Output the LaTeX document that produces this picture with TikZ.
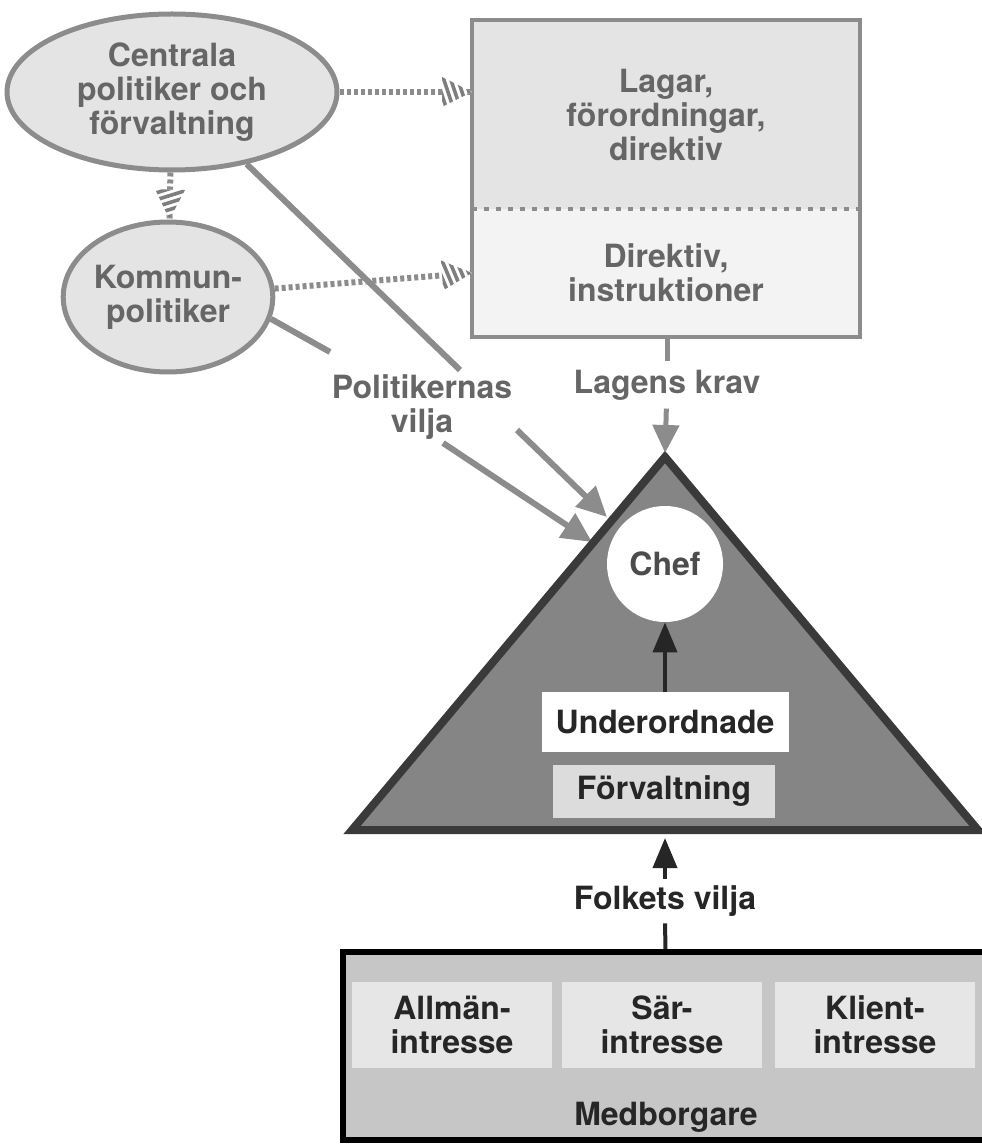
\documentclass[tikz,border=0pt]{standalone}
\usepackage{fontspec}
\setmainfont{TeX Gyre Heros}
\usepackage{xcolor}
\usepackage{tikz}
\usetikzlibrary{shapes.geometric, arrows.meta, positioning, calc, decorations.markings}

\definecolor{linegray}{HTML}{8C8C8C}
\definecolor{textgray}{HTML}{666666}
\definecolor{paleA}{HTML}{E4E4E4}
\definecolor{paleB}{HTML}{F3F3F3}
\definecolor{paleC}{HTML}{DCDCDC}
\definecolor{trifill}{HTML}{858585}
\definecolor{triedge}{HTML}{3A3A3A}
\definecolor{boxfill}{HTML}{C6C6C6}
\definecolor{cellfill}{HTML}{E6E6E6}

\tikzset{
  lbl/.style={font=\fontsize{16}{17}\selectfont\bfseries, align=center},
  bubble/.style={ellipse, draw=linegray, line width=2.5pt, fill=paleA, lbl, text=textgray, inner sep=0pt},
  hatch/.style={linegray, line width=3pt, dash pattern=on 2pt off 1.5pt,
    postaction={decorate},
    decoration={markings, mark=at position 1 with {
      \fill[white] (0,0) -- (-30,15) -- (-30,-15) -- cycle;
      \begin{scope}
        \clip (0,0) -- (-30,15) -- (-30,-15) -- cycle;
        \foreach \s in {-44,-37,...,6}
          \draw[solid, line width=1.8pt, linegray!90!black] (\s,-18) -- (\s+12,18);
      \end{scope}}}},
  pline/.style={linegray, line width=3pt},
  parrow/.style={pline, -{Triangle[length=15pt, width=14pt]}},
  larrow/.style={linegray, line width=2.5pt, -{Triangle[length=14pt, width=13pt]}},
  blackline/.style={black!85, line width=2pt},
  barrow/.style={blackline, -{Triangle[length=15pt, width=12pt]}},
  cell/.style={lbl, fill=cellfill, minimum width=100pt, minimum height=43pt, text=black!85}
}

\begin{document}
\begin{tikzpicture}[x=0.5pt, y=-0.5pt]
  \useasboundingbox (0,0) rectangle (981,1144);
  % Politicians
  \node[bubble, minimum width=165pt, minimum height=78pt] (cp) at (172,92) {Centrala\\politiker och\\förvaltning};
  \node[bubble, minimum width=90pt, minimum height=75pt] (kp) at (168,297) {Kommun-\\politiker};
  % Rules box, split in two
  \node[fill=paleA, lbl, text=textgray, outer sep=0pt, minimum width=194pt, minimum height=94.5pt] (lag) at (666,114.5) {Lagar,\\förordningar,\\direktiv};
  \node[fill=paleB, lbl, text=textgray, outer sep=0pt, minimum width=194pt, minimum height=64pt] (dir) at (666,273) {Direktiv,\\instruktioner};
  \draw[linegray, line width=2pt] (lag.north west) rectangle (dir.south east);
  \draw[linegray, line width=2pt, dash pattern=on 2.5pt off 3.5pt] (lag.south west) -- (lag.south east);
  % Hatched arrows
  \draw[hatch] (cp.east) -- (cp.east -| lag.west);
  \draw[hatch] (cp) -- (kp);
  \draw[hatch] (kp) -- (dir.west);
  % Politicians' will
  \node[lbl, text=textgray] (pv) at (422,407) {Politikernas\\vilja};
  \coordinate (l1e) at (460,370);
  \coordinate (l2e) at (330,352);
  \draw[pline] (cp) -- (l1e);
  \draw[pline] (kp.-12) -- (l2e);
  \coordinate (a1s) at (517,430);
  \coordinate (a1e) at (607,517);
  \coordinate (a2s) at (443,443);
  \coordinate (a2e) at (592,542);
  \draw[parrow] (a1s) -- (a1e);
  \draw[parrow] (a2s) -- (a2e);
  % Organisation triangle
  \coordinate (apex) at (665,457);
  \coordinate (tl) at (352,830);
  \coordinate (tr) at (978,830);
  \filldraw[fill=trifill, draw=triedge, line width=4pt] (apex) -- (tr) -- (tl) -- cycle;
  \node[lbl, text=textgray, inner sep=4pt] (lk) at (667,385) {Lagens krav};
  \draw[linegray, line width=2.5pt] (dir.south -| lk) -- (lk);
  \draw[larrow, shorten >=2pt] (lk) -- (apex);
  \node[circle, fill=white, minimum size=58pt, lbl, text=black!70] (chef) at (665,564) {Chef};
  \node[fill=white, lbl, text=black!85, minimum width=123.5pt, minimum height=30pt] (und) at (665,722) {Underordnade};
  \node[fill=paleC, lbl, text=black!85, minimum width=111pt, minimum height=26.5pt] (forv) at (664,791) {Förvaltning};
  \draw[barrow] (und) -- (chef);
  % Citizens
  \node[draw=black, line width=3pt, fill=boxfill, minimum width=323.5pt, minimum height=94pt] (mb) at (666,1046) {};
  \node[lbl, text=black!85] (fv) at (665,901) {Folkets vilja};
  \coordinate (base) at (665,830);
  \draw[barrow, shorten >=4pt] (fv) -- (base);
  \draw[blackline] (fv) -- (mb);
  \node[cell] (c1) at (452,1025) {Allmän-\\intresse};
  \node[cell] (c2) at (662,1025) {Sär-\\intresse};
  \node[cell] (c3) at (875,1025) {Klient-\\intresse};
  \node[lbl, text=black!85] (mbl) at (666,1117) {Medborgare};
\end{tikzpicture}
\end{document}
